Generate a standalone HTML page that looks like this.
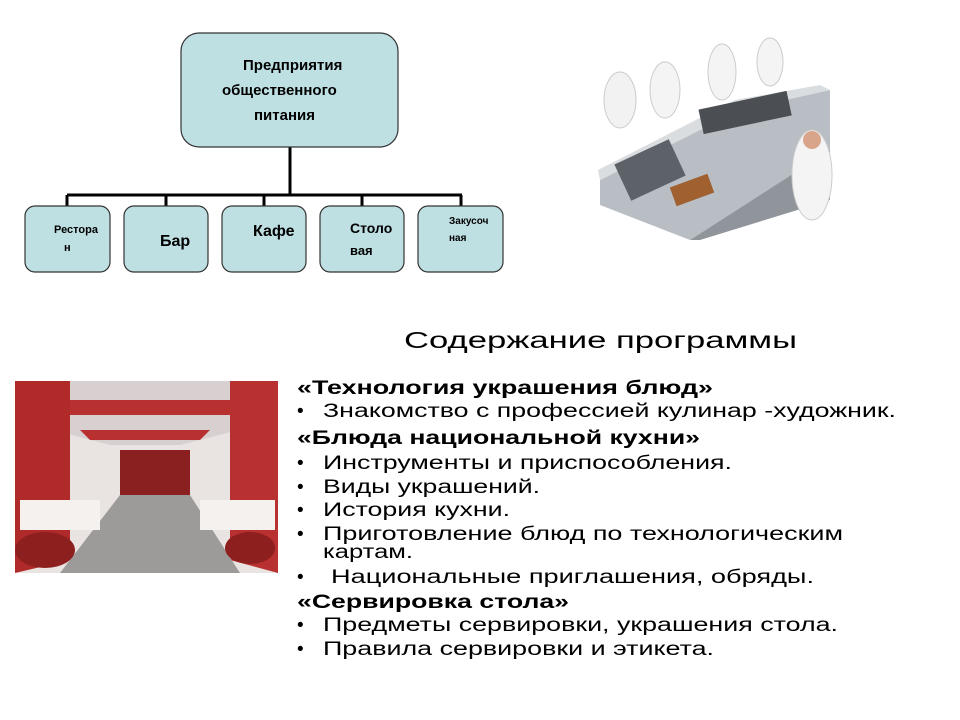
<!DOCTYPE html>
<html><head><meta charset="utf-8"><style>
html,body{margin:0;padding:0;background:#fff;width:960px;height:720px;overflow:hidden}
svg{display:block}
</style></head><body>
<svg width="960" height="720" viewBox="0 0 960 720" xmlns="http://www.w3.org/2000/svg" font-family="Liberation Sans, sans-serif">
<rect width="960" height="720" fill="#fff"/>
<g stroke="#000" stroke-width="3" fill="none">
<line x1="290" y1="147" x2="290" y2="195"/>
<line x1="67" y1="195" x2="462" y2="195"/>
<line x1="67" y1="195" x2="67" y2="206"/>
<line x1="166" y1="195" x2="166" y2="206"/>
<line x1="264" y1="195" x2="264" y2="206"/>
<line x1="362" y1="195" x2="362" y2="206"/>
<line x1="461" y1="195" x2="461" y2="206"/>
</g>
<g fill="#bfe0e3" stroke="#333" stroke-width="1.2">
<rect x="181" y="33" width="217" height="114" rx="18"/>
<rect x="25" y="206" width="85" height="66" rx="10"/>
<rect x="124" y="206" width="84" height="66" rx="10"/>
<rect x="222" y="206" width="84" height="66" rx="10"/>
<rect x="320" y="206" width="84" height="66" rx="10"/>
<rect x="418" y="206" width="85" height="66" rx="10"/>
</g>
<g font-weight="bold" fill="#000">
<text x="243" y="70" font-size="15">Предприятия</text>
<text x="222" y="95" font-size="15">общественного</text>
<text x="254" y="120" font-size="15">питания</text>
<text x="54" y="233" font-size="11">Рестора</text>
<text x="64" y="251" font-size="11">н</text>
<text x="160" y="246" font-size="16">Бар</text>
<text x="253" y="236" font-size="16">Кафе</text>
<text x="350" y="233" font-size="14">Столо</text>
<text x="350" y="255" font-size="13">вая</text>
<text x="449" y="224" font-size="10">Закусоч</text>
<text x="449" y="241" font-size="10">ная</text>
</g>
<!-- kitchen photo approximation -->
<g>
<polygon points="600,180 740,110 830,90 830,150 690,240 600,205" fill="#b9bec4"/>
<polygon points="600,180 740,110 830,90 820,85 735,100 598,170" fill="#d9dde0"/>
<rect x="620" y="150" width="60" height="40" fill="#5d6268" transform="rotate(-25 650 170)"/>
<rect x="700" y="100" width="90" height="25" fill="#4b4f54" transform="rotate(-12 745 112)"/>
<polygon points="690,240 830,150 830,200 700,240" fill="#8f959b"/>
<ellipse cx="620" cy="100" rx="16" ry="28" fill="#f2f2f2" stroke="#ccc"/>
<ellipse cx="665" cy="90" rx="15" ry="28" fill="#f4f4f4" stroke="#ccc"/>
<ellipse cx="722" cy="72" rx="14" ry="28" fill="#f4f4f4" stroke="#ccc"/>
<ellipse cx="770" cy="62" rx="13" ry="24" fill="#f4f4f4" stroke="#ccc"/>
<ellipse cx="812" cy="175" rx="20" ry="45" fill="#f4f4f4" stroke="#ccc"/>
<circle cx="812" cy="140" r="9" fill="#d8a58a"/>
<rect x="672" y="180" width="40" height="20" fill="#a0602f" transform="rotate(-20 692 190)"/>
</g>
<!-- restaurant photo approximation -->
<g>
<rect x="15" y="381" width="263" height="192" fill="#e9e4e2"/>
<polygon points="15,381 278,381 278,420 180,445 110,445 15,420" fill="#d8d0d0"/>
<polygon points="40,400 250,400 230,415 60,415" fill="#b83030"/>
<polygon points="80,430 210,430 200,440 90,440" fill="#b83030"/>
<polygon points="15,381 70,381 70,560 15,573" fill="#b02a2a"/>
<polygon points="230,381 278,381 278,573 230,560" fill="#b8302f"/>
<rect x="120" y="450" width="70" height="45" fill="#8a2020"/>
<polygon points="120,495 190,495 240,573 60,573" fill="#9d9a9a"/>
<rect x="20" y="500" width="80" height="30" fill="#f5f1ee"/>
<rect x="200" y="500" width="75" height="30" fill="#f5f1ee"/>
<ellipse cx="45" cy="550" rx="30" ry="18" fill="#8e1f1f"/>
<ellipse cx="250" cy="548" rx="25" ry="16" fill="#8e1f1f"/>
</g>
<text x="404" y="348" font-size="23" textLength="393" lengthAdjust="spacingAndGlyphs">Содержание программы</text>
<g font-size="19" fill="#000">
<text x="297" y="394" font-weight="bold" textLength="416" lengthAdjust="spacingAndGlyphs">«Технология украшения блюд»</text>
<text x="297" y="417">•</text><text x="323" y="417" textLength="573" lengthAdjust="spacingAndGlyphs">Знакомство с профессией кулинар -художник.</text>
<text x="297" y="444" font-weight="bold" textLength="403" lengthAdjust="spacingAndGlyphs">«Блюда национальной кухни»</text>
<text x="297" y="469">•</text><text x="323" y="469" textLength="409" lengthAdjust="spacingAndGlyphs">Инструменты и приспособления.</text>
<text x="297" y="493">•</text><text x="323" y="493" textLength="217" lengthAdjust="spacingAndGlyphs">Виды украшений.</text>
<text x="297" y="516">•</text><text x="323" y="516" textLength="187" lengthAdjust="spacingAndGlyphs">История кухни.</text>
<text x="297" y="540">•</text><text x="323" y="540" textLength="520" lengthAdjust="spacingAndGlyphs">Приготовление блюд по технологическим</text>
<text x="323" y="558" textLength="90" lengthAdjust="spacingAndGlyphs">картам.</text>
<text x="297" y="583">•</text><text x="331" y="583" textLength="483" lengthAdjust="spacingAndGlyphs">Национальные  приглашения, обряды.</text>
<text x="297" y="608" font-weight="bold" textLength="272" lengthAdjust="spacingAndGlyphs">«Сервировка стола»</text>
<text x="297" y="631">•</text><text x="323" y="631" textLength="515" lengthAdjust="spacingAndGlyphs">Предметы сервировки, украшения стола.</text>
<text x="297" y="655">•</text><text x="323" y="655" textLength="391" lengthAdjust="spacingAndGlyphs">Правила сервировки и этикета.</text>
</g>
</svg>
</body></html>
